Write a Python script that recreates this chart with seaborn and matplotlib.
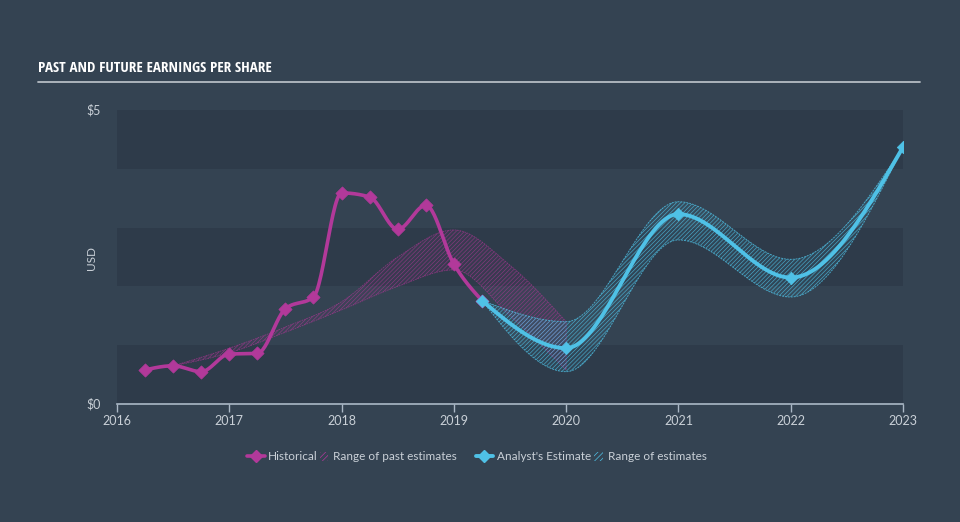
import numpy as np
import pandas as pd
import matplotlib
matplotlib.use("Agg")
import matplotlib.pyplot as plt
import seaborn as sns
from matplotlib.lines import Line2D
from matplotlib.patches import Patch, Rectangle
from matplotlib.legend_handler import HandlerPatch

# ---------------- data ----------------
hist_x = [2016.25, 2016.5, 2016.75, 2017.0, 2017.25, 2017.5, 2017.75,
          2018.0, 2018.25, 2018.5, 2018.75, 2019.0, 2019.25]
hist_y = [0.58, 0.65, 0.55, 0.85, 0.86, 1.62, 1.82,
          3.59, 3.52, 2.97, 3.38, 2.38, 1.76]

past_x = [2016.5, 2017.0, 2017.5, 2018.0, 2018.5, 2019.0, 2019.5, 2020.0]
past_hi = [0.65, 0.95, 1.31, 1.74, 2.50, 2.96, 2.36, 1.40]
past_lo = [0.65, 0.87, 1.22, 1.60, 2.00, 2.28, 1.50, 0.58]

est_x = [2019.25, 2020.0, 2021.0, 2022.0, 2023.0]
est_y = [1.76, 0.95, 3.23, 2.15, 4.37]
est_hi = [1.76, 1.40, 3.44, 2.46, 4.37]
est_lo = [1.76, 0.55, 2.79, 1.82, 4.37]

year_ticks = [2016, 2017, 2018, 2019, 2020, 2021, 2022, 2023]
y_ticks = [0, 5]
y_tick_labels = ["$0", "$5"]

# ---------------- style ----------------
BG = "#344352"
BAND = "#2e3b4a"
PINK = "#b2399a"
BLUE = "#4fc1e6"
TXT = "#c9d0d7"
AXC = "#aab8c6"


def monotone(x, y, n=300):
    """d3 curveMonotoneX-style smooth path through the given points."""
    x = np.asarray(x, float)
    y = np.asarray(y, float)
    h = np.diff(x)
    d = np.diff(y) / h
    m = np.zeros_like(y)
    for i in range(1, len(x) - 1):
        h0, h1, s0, s1 = h[i - 1], h[i], d[i - 1], d[i]
        p = (s0 * h1 + s1 * h0) / (h0 + h1)
        m[i] = (np.sign(s0) + np.sign(s1)) * min(abs(s0), abs(s1), 0.5 * abs(p))
    m[0] = (3 * d[0] - m[1]) / 2 if len(x) > 2 else d[0]
    m[-1] = (3 * d[-1] - m[-2]) / 2 if len(x) > 2 else d[-1]
    xs, ys = [], []
    for i in range(len(x) - 1):
        t = np.linspace(0, 1, n // (len(x) - 1) + 2)
        hh = h[i]
        h00 = 2 * t**3 - 3 * t**2 + 1
        h10 = t**3 - 2 * t**2 + t
        h01 = -2 * t**3 + 3 * t**2
        h11 = t**3 - t**2
        xs.append(x[i] + t * hh)
        ys.append(h00 * y[i] + h10 * hh * m[i] + h01 * y[i + 1] + h11 * hh * m[i + 1])
    return np.concatenate(xs), np.concatenate(ys)


sns.set_theme(style="dark")
plt.rcParams["hatch.linewidth"] = 0.5
plt.rcParams["font.family"] = ["Lato", "DejaVu Sans"]

fig = plt.figure(figsize=(9.6, 5.22), dpi=100, facecolor=BG)
ax = fig.add_axes([117 / 960, 1 - 404 / 522, 786 / 960, 294 / 522])
ax.set_facecolor(BG)

for lo in (0, 2, 4):
    ax.axhspan(lo, lo + 1, color=BAND, lw=0, zorder=0)

# past estimate range
px, phi = monotone(past_x, past_hi)
_, plo = monotone(past_x, past_lo)
ax.fill_between(px, plo, phi, facecolor=(0.7, 0.22, 0.6, 0.08), edgecolor=(0.70, 0.22, 0.60, 0.6),
                hatch="////////", lw=0.6, linestyle=(0, (2, 1)), zorder=2)

# future estimate range
ex, ehi = monotone(est_x, est_hi)
_, elo = monotone(est_x, est_lo)
ax.fill_between(ex, elo, ehi, facecolor=(0.31, 0.76, 0.9, 0.08), edgecolor=(0.31, 0.76, 0.90, 0.75),
                hatch="////////", lw=0.7, linestyle=(0, (2, 1)), zorder=3)

hx, hy = monotone(hist_x, hist_y)
sns.lineplot(x=hx, y=hy, ax=ax, color=PINK, lw=2.6, sort=False, zorder=4)
sns.scatterplot(x=hist_x, y=hist_y, ax=ax, color=PINK, marker="D", s=45, edgecolor=PINK, zorder=5)

fx, fy = monotone(est_x, est_y)
sns.lineplot(x=fx, y=fy, ax=ax, color=BLUE, lw=2.8, sort=False, zorder=6)
sns.scatterplot(x=est_x, y=est_y, ax=ax, color=BLUE, marker="D", s=40, edgecolor=BLUE, zorder=7)

ax.set_xlim(2016, 2023)
ax.set_ylim(0, 5)
ax.set_xticks(year_ticks)
ax.set_xticklabels([str(t) for t in year_ticks])
ax.set_yticks(y_ticks)
ax.set_yticklabels(y_tick_labels)
ax.tick_params(axis="x", colors=AXC, labelcolor=TXT, labelsize=9, length=6, width=1, direction="out", pad=2, bottom=True)
ax.tick_params(axis="y", length=0, labelcolor=TXT, labelsize=9, pad=12)
for lab in ax.get_yticklabels():
    lab.set_verticalalignment("center")
for s in ("top", "right", "left"):
    ax.spines[s].set_visible(False)
ax.spines["bottom"].set_color(AXC)
ax.spines["bottom"].set_linewidth(1.2)
ax.grid(False)
ax.set_xlabel("")
ax.set_ylabel("")

fig.text(92 / 960, 1 - 258 / 522, "USD", rotation=90, ha="center", va="center", color=TXT, fontsize=8.5)

fig.text(38 / 960, 1 - 68 / 522, "PAST AND FUTURE EARNINGS PER SHARE", ha="left", va="center",
         color="white", fontsize=10.8, fontweight="bold", fontstretch="condensed",
         family=["Open Sans Condensed", "Liberation Sans Narrow", "Roboto Condensed", "DejaVu Sans"])
fig.add_artist(Line2D([38 / 960, 920 / 960], [1 - 82 / 522, 1 - 82 / 522], color="#b5bcc3", lw=1.3,
                      transform=fig.transFigure))


def narrow_patch(legend, orig_handle, xdescent, ydescent, width, height, fontsize):
    return Rectangle((-xdescent + width - 7, -ydescent), 6, height)


hmap = {Patch: HandlerPatch(patch_func=narrow_patch)}

legA = fig.legend(
    [Line2D([0], [0], color=PINK, lw=2.6, marker="D", ms=6),
     Patch(facecolor="none", edgecolor=PINK, hatch="//////", lw=0)],
    ["Historical", "Range of past estimates"],
    loc="center", bbox_to_anchor=(352 / 960, 1 - 457 / 522), ncol=2, frameon=False, fontsize=8.5,
    handlelength=1.5, handletextpad=0.3, columnspacing=-0.5, labelcolor=TXT, handler_map=hmap)
legB = fig.legend(
    [Line2D([0], [0], color=BLUE, lw=2.8, marker="D", ms=6),
     Patch(facecolor="none", edgecolor=BLUE, hatch="//////", lw=0)],
    ["Analyst's Estimate", "Range of estimates"],
    loc="center", bbox_to_anchor=(591 / 960, 1 - 457 / 522), ncol=2, frameon=False, fontsize=8.5,
    handlelength=1.5, handletextpad=0.3, columnspacing=-0.4, labelcolor=TXT, handler_map=hmap)

fig.savefig("out.png", dpi=100, facecolor=BG)
